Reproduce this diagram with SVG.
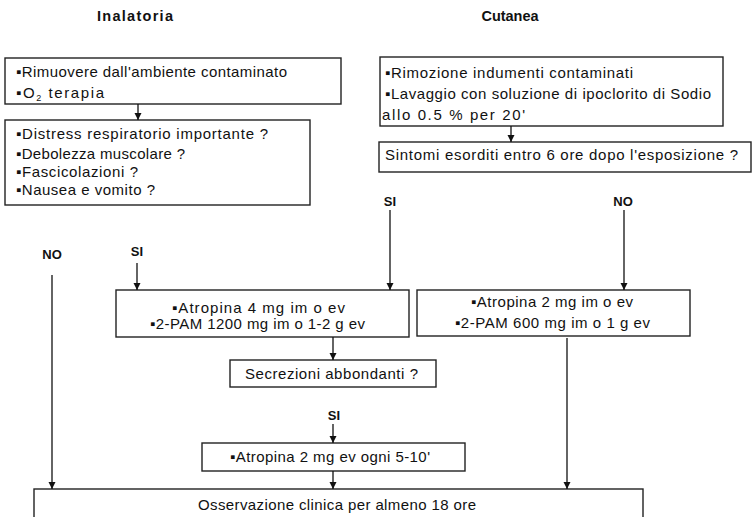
<svg xmlns="http://www.w3.org/2000/svg" width="756" height="517" viewBox="0 0 756 517">
<defs>
<marker id="ah" viewBox="0 0 10 10" refX="10" refY="5" markerWidth="7" markerHeight="8" markerUnits="userSpaceOnUse" orient="auto">
<path d="M0,0 L10,5 L0,10 z" fill="#111"/>
</marker>
<style>
.box{fill:#fff;stroke:#222;stroke-width:1.4}
.t{font-family:"Liberation Sans",Arial,sans-serif;font-size:15px;fill:#111}
.c{text-anchor:middle}
.b{font-family:"Liberation Sans",Arial,sans-serif;font-size:13px;font-weight:bold;fill:#111}
.h{font-family:"Liberation Sans",Arial,sans-serif;font-size:14.5px;font-weight:bold;fill:#111;text-anchor:middle}
.ln{stroke:#111;stroke-width:1.3;fill:none}
</style>
</defs>
<rect width="756" height="517" fill="#fff"/>
<text class="h" x="135" y="21" textLength="76">Inalatoria</text>
<text class="h" x="510" y="21" textLength="57">Cutanea</text>

<g id="n1">
<rect class="box" x="5" y="58" width="336" height="46"/>
<text class="t" x="16" y="77" textLength="271">▪Rimuovere dall'ambiente contaminato</text>
<text class="t" x="16" y="98" letter-spacing="1.6">▪O<tspan font-size="9" dy="3">2</tspan><tspan dy="-3"> terapia</tspan></text>
</g>
<g id="n2">
<rect class="box" x="5" y="120" width="305" height="85"/>
<text class="t" x="16" y="139" textLength="252">▪Distress respiratorio importante ?</text>
<text class="t" x="16" y="159" textLength="169">▪Debolezza muscolare ?</text>
<text class="t" x="16" y="177" textLength="122">▪Fascicolazioni ?</text>
<text class="t" x="16" y="195" textLength="139">▪Nausea e vomito ?</text>
</g>
<g id="n3">
<rect class="box" x="380" y="57" width="343" height="69"/>
<text class="t" x="385" y="78" textLength="248">▪Rimozione indumenti contaminati</text>
<text class="t" x="385" y="99" textLength="326">▪Lavaggio con soluzione di ipoclorito di Sodio</text>
<text class="t" x="382" y="120" textLength="143">allo 0.5 % per 20'</text>
</g>
<g id="n4">
<rect class="box" x="379" y="142" width="372" height="30"/>
<text class="t c" x="561.5" y="160" textLength="353">Sintomi esorditi entro 6 ore dopo l'esposizione ?</text>
</g>
<g id="n5">
<rect class="box" x="116" y="290" width="293" height="47"/>
<text class="t c" x="258.5" y="313" textLength="173">▪Atropina 4 mg im o ev</text>
<text class="t c" x="257.5" y="329" textLength="215">▪2-PAM 1200 mg im o 1-2 g ev</text>
</g>
<g id="n6">
<rect class="box" x="417" y="290" width="273" height="46"/>
<text class="t c" x="552" y="307" textLength="162">▪Atropina 2 mg im o ev</text>
<text class="t c" x="552.5" y="328" textLength="195">▪2-PAM 600 mg im o 1 g ev</text>
</g>
<g id="n7">
<rect class="box" x="230" y="360" width="206" height="27"/>
<text class="t c" x="331.5" y="379" textLength="173">Secrezioni abbondanti ?</text>
</g>
<g id="n8">
<rect class="box" x="202" y="443" width="263" height="28"/>
<text class="t c" x="330" y="462" textLength="200">▪Atropina 2 mg ev ogni 5-10'</text>
</g>
<g id="n9">
<rect class="box" x="34" y="489" width="609" height="40"/>
<text class="t c" x="337" y="510" textLength="278">Osservazione clinica per almeno 18 ore</text>
</g>

<g id="labels">
<text class="b" x="390" y="206" text-anchor="middle">SI</text>
<text class="b" x="623" y="206" text-anchor="middle">NO</text>
<text class="b" x="52" y="259" text-anchor="middle">NO</text>
<text class="b" x="137" y="256" text-anchor="middle">SI</text>
<text class="b" x="334" y="420" text-anchor="middle">SI</text>
</g>

<g id="connectors">
<line class="ln" x1="138" y1="104" x2="138" y2="120" marker-end="url(#ah)"/>
<line class="ln" x1="511" y1="126" x2="511" y2="142" marker-end="url(#ah)"/>
<line class="ln" x1="390" y1="210" x2="390" y2="290" marker-end="url(#ah)"/>
<line class="ln" x1="624" y1="210" x2="624" y2="290" marker-end="url(#ah)"/>
<line class="ln" x1="137" y1="263" x2="137" y2="290" marker-end="url(#ah)"/>
<line class="ln" x1="52" y1="275" x2="52" y2="489" marker-end="url(#ah)"/>
<line class="ln" x1="333" y1="337" x2="333" y2="360" marker-end="url(#ah)"/>
<line class="ln" x1="333" y1="424" x2="333" y2="443" marker-end="url(#ah)"/>
<line class="ln" x1="333" y1="471" x2="333" y2="489" marker-end="url(#ah)"/>
<line class="ln" x1="567" y1="338" x2="567" y2="489" marker-end="url(#ah)"/>
</g>
</svg>
